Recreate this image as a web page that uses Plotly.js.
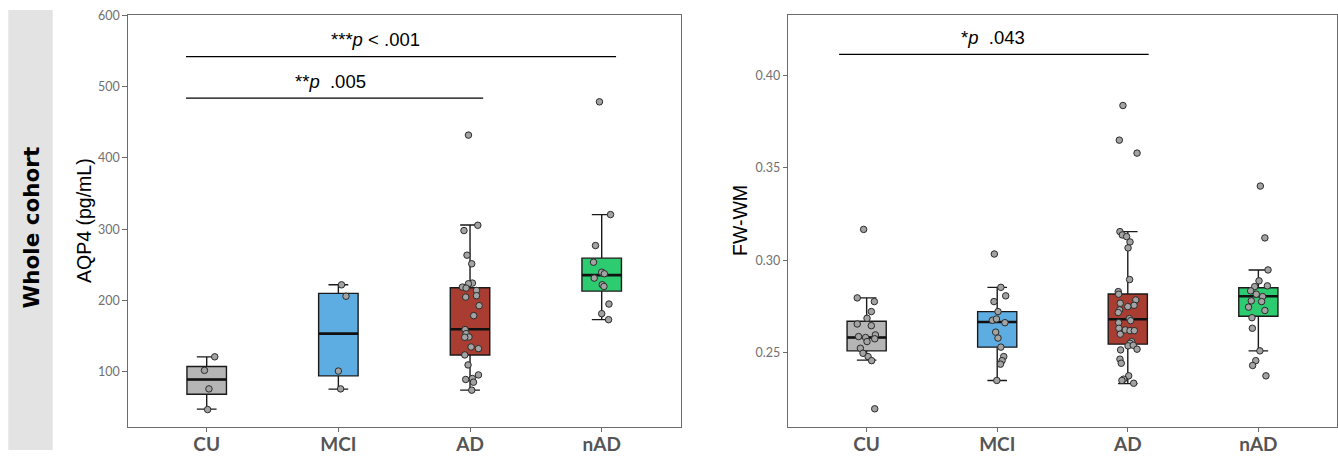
<!DOCTYPE html>
<html><head><meta charset="utf-8">
<script src="https://cdn.plot.ly/plotly-3.0.1.min.js"></script>
<style>html,body{margin:0;padding:0;background:#fff}#chart{width:1338px;height:456px}</style>
</head><body><div id="chart"></div>
<script>
// ---------- data ----------
const groups = ['CU', 'MCI', 'AD', 'nAD'];
const boxColors = ['#b5b5b5', '#5dade2', '#a93d31', '#2ecc71'];

// Panel 1: AQP4 (pg/mL) box statistics
const aqpQ1  = [68.5, 94.3, 123.6, 213.2];
const aqpMed = [89.2, 153.5, 159.6, 235.6];
const aqpQ3  = [107.4, 210.0, 217.9, 259.4];
const aqpLo  = [47.6, 75.6, 74.2, 173.1];
const aqpHi  = [120.9, 222.0, 305.8, 320.5];

// Panel 1 individual points (value + horizontal jitter)
const aqpCU = [121, 102, 76, 47];
const aqpCUJit = [0.061, -0.017, 0.017, 0.007];
const aqpMCI = [222, 206, 101, 76];
const aqpMCIJit = [0.024, 0.058, 0.0, 0.017];
const aqpAD = [432, 305.5, 298.1, 263.6, 251.5, 224.4, 223.5, 218.8, 217.4, 214.1, 204.8, 206.7, 192.7, 178.7,
               159.1, 153.5, 148.8, 148.4, 134.8, 132.5, 123.6, 109.6, 95.6, 89.2, 90.6, 85.4, 74.2];
const aqpADJit = [-0.012, 0.059, -0.046, -0.023, 0.013, 0.018, -0.012, -0.058, -0.03, 0.049, -0.033, 0.049, 0.069, 0.028,
                  -0.038, -0.03, -0.008, -0.04, 0.008, 0.064, -0.04, -0.015, 0.064, -0.033, 0.018, 0.026, 0.013];
const aqpNAD = [478.7, 320.5, 277.1, 253.7, 239.7, 237.5, 231.4, 222.1, 219.7, 195, 181.5, 173.1];
const aqpNADJit = [-0.017, 0.067, -0.047, -0.062, 0.0, 0.02, -0.057, 0.004, 0.017, 0.055, 0.0, 0.052];

// Panel 2: FW-WM box statistics
const fwQ1  = [0.2511, 0.2531, 0.2547, 0.2698];
const fwMed = [0.2583, 0.2667, 0.2682, 0.2806];
const fwQ3  = [0.2671, 0.2723, 0.2818, 0.2852];
const fwLo  = [0.2461, 0.2351, 0.2334, 0.2511];
const fwHi  = [0.2797, 0.2854, 0.3155, 0.2948];

const fwCU = [0.3167, 0.2797, 0.2777, 0.2723, 0.2687, 0.2656, 0.2647, 0.2588, 0.2583, 0.2597, 0.2576, 0.2561, 0.2525,
              0.2498, 0.2480, 0.2458, 0.2198];
const fwCUJit = [-0.023, -0.072, 0.059, 0.036, 0.003, -0.072, 0.036, -0.062, -0.008, 0.067, 0.062, 0.003, -0.048,
                 -0.028, 0.011, 0.038, 0.062];
const fwMCI = [0.3034, 0.2854, 0.2808, 0.2777, 0.2723, 0.2676, 0.2683, 0.2663, 0.2612, 0.2580, 0.2531, 0.2480, 0.2458,
               0.2439, 0.2351];
const fwMCIJit = [-0.022, 0.028, 0.065, -0.025, 0.006, -0.037, -0.006, 0.059, -0.012, 0.006, 0.028, 0.05, 0.037,
                  0.025, -0.003];
const fwAD = [0.3836, 0.3649, 0.3579, 0.3155, 0.3137, 0.3128, 0.3099, 0.3067, 0.2896, 0.2831, 0.2817, 0.2786, 0.2768,
              0.2757, 0.2750, 0.2732, 0.2718, 0.2685, 0.2674, 0.2663, 0.2633, 0.2624, 0.2620, 0.2620, 0.2601, 0.2561,
              0.2552, 0.2538, 0.2541, 0.2520, 0.2516, 0.2466, 0.2444, 0.2376, 0.2358, 0.2351, 0.2336];
const fwADJit = [-0.037, -0.065, 0.071, -0.06, -0.042, -0.009, 0.017, 0.002, 0.014, -0.073, -0.07, 0.061, -0.058,
                 0.048, 0.0, -0.062, -0.073, 0.012, 0.022, -0.07, -0.068, -0.019, 0.017, 0.05, -0.058, 0.03,
                 0.017, 0.002, 0.042, 0.071, -0.055, -0.06, -0.05, 0.007, -0.032, -0.045, 0.045];
const fwNAD = [0.3401, 0.3121, 0.2948, 0.2889, 0.2858, 0.2862, 0.2835, 0.2817, 0.2804, 0.2781, 0.2777, 0.2747, 0.2729,
               0.2690, 0.2633, 0.2511, 0.2458, 0.2432, 0.2376];
const fwNADJit = [0.015, 0.05, 0.074, 0.005, -0.028, 0.069, -0.059, -0.016, 0.033, -0.054, 0.025, -0.075, 0.05,
                  -0.049, -0.046, 0.012, -0.02, -0.044, 0.058];

// significance brackets
const aqpBrX0 = [-0.157, -0.157];
const aqpBrX1 = [3.109, 2.10];
const aqpBrY = [542, 484];
const aqpBrLabel = ['***<i>p</i> &lt; .001', '**<i>p</i>  .005'];
const aqpBrLabelX = [1.28, 0.944];
const aqpBrLabelY = [565.5, 507];
const fwBrX0 = [-0.211];
const fwBrX1 = [2.16];
const fwBrY = [0.4112];
const fwBrLabel = ['*<i>p</i>  .043'];
const fwBrLabelX = [0.968];
const fwBrLabelY = [0.4202];

// ---------- build ----------
const W = 1338, H = 456;
const px = v => v / W;
const py = v => 1 - v / H;
const BOXW = 0.3;

const traces = [];
function addPanel(xa, ya, q1, med, q3, lo, hi, pts, jits) {
  for (let i = 0; i < groups.length; i++) {
    traces.push({
      type: 'box', xaxis: xa, yaxis: ya, x: [i],
      q1: [q1[i]], median: [med[i]], q3: [q3[i]], lowerfence: [lo[i]], upperfence: [hi[i]],
      width: BOXW, whiskerwidth: 0.5, boxpoints: false,
      fillcolor: boxColors[i], line: {color: '#1a1a1a', width: 1.4},
      hoverinfo: 'skip', showlegend: false
    });
    traces.push({
      type: 'scatter', mode: 'lines', xaxis: xa, yaxis: ya,
      x: [i - BOXW / 2, i + BOXW / 2], y: [med[i], med[i]],
      line: {color: '#111', width: 2.6}, hoverinfo: 'skip', showlegend: false
    });
  }
  for (let i = 0; i < groups.length; i++) {
    traces.push({
      type: 'scatter', mode: 'markers', xaxis: xa, yaxis: ya,
      x: pts[i].map((v, k) => i + jits[i][k]), y: pts[i],
      marker: {size: 6.5, color: '#a3a3a3', line: {color: '#2a2a2a', width: 1}},
      hoverinfo: 'skip', showlegend: false
    });
  }
}
addPanel('x', 'y', aqpQ1, aqpMed, aqpQ3, aqpLo, aqpHi,
  [aqpCU, aqpMCI, aqpAD, aqpNAD], [aqpCUJit, aqpMCIJit, aqpADJit, aqpNADJit]);
addPanel('x2', 'y2', fwQ1, fwMed, fwQ3, fwLo, fwHi,
  [fwCU, fwMCI, fwAD, fwNAD], [fwCUJit, fwMCIJit, fwADJit, fwNADJit]);

const frameColor = '#6b6b6b';
function xAxis(domain, anchor) {
  return {
    domain: domain, anchor: anchor, range: [-0.6, 3.6], tickmode: 'array',
    tickvals: [0, 1, 2, 3], ticktext: groups, ticks: 'outside', ticklen: 4, tickcolor: frameColor,
    ticklabelstandoff: -4,
    showline: true, mirror: true, linecolor: frameColor, linewidth: 1, showgrid: false, zeroline: false,
    tickfont: {family: 'Lato', size: 19, color: '#555555', weight: 700}, fixedrange: true
  };
}
function yAxis(domain, anchor, range, dtick, fmt) {
  return {
    domain: domain, anchor: anchor, range: range, dtick: dtick, tickformat: fmt,
    ticks: 'outside', ticklen: 4.5, tickcolor: frameColor,
    showline: true, mirror: true, linecolor: frameColor, linewidth: 1, showgrid: false, zeroline: false,
    tickfont: {family: 'Lato', size: 12.5, color: '#707070'}, fixedrange: true
  };
}

const shapes = [{
  type: 'rect', xref: 'paper', yref: 'paper', x0: px(8.3), x1: px(52.7), y0: py(450), y1: py(10),
  fillcolor: '#e3e3e3', line: {width: 0}, layer: 'below'
}];
const annotations = [
  {xref: 'paper', yref: 'paper', x: px(30.5), y: py(228), xanchor: 'center', yanchor: 'middle',
   text: '<b>Whole cohort</b>', textangle: -90,
   showarrow: false, font: {family: 'DejaVu Sans', size: 21.5, color: '#000'}},
  {xref: 'paper', yref: 'paper', x: px(84), y: py(221), xanchor: 'center', yanchor: 'middle',
   text: 'AQP4 (pg/mL)', textangle: -90,
   showarrow: false, font: {family: 'Liberation Sans', size: 19.5, color: '#000'}},
  {xref: 'paper', yref: 'paper', x: px(740), y: py(221), xanchor: 'center', yanchor: 'middle',
   text: 'FW-WM', textangle: -90,
   showarrow: false, font: {family: 'Liberation Sans', size: 19.5, color: '#000'}}
];
aqpBrY.forEach((y, k) => {
  shapes.push({type: 'line', xref: 'x', yref: 'y', x0: aqpBrX0[k], x1: aqpBrX1[k], y0: y, y1: y,
               line: {color: '#000', width: 1.3}});
  annotations.push({xref: 'x', yref: 'y', x: aqpBrLabelX[k], y: aqpBrLabelY[k], xanchor: 'center', yanchor: 'middle',
                    text: aqpBrLabel[k],
                    showarrow: false, font: {family: 'Liberation Sans', size: 18.5, color: '#000'}});
});
fwBrY.forEach((y, k) => {
  shapes.push({type: 'line', xref: 'x2', yref: 'y2', x0: fwBrX0[k], x1: fwBrX1[k], y0: y, y1: y,
               line: {color: '#000', width: 1.3}});
  annotations.push({xref: 'x2', yref: 'y2', x: fwBrLabelX[k], y: fwBrLabelY[k], xanchor: 'center', yanchor: 'middle',
                    text: fwBrLabel[k],
                    showarrow: false, font: {family: 'Liberation Sans', size: 18.5, color: '#000'}});
});

const yDom = [py(427.3), py(15)];
const layout = {
  width: W, height: H, margin: {l: 0, r: 0, t: 0, b: 0},
  paper_bgcolor: '#fff', plot_bgcolor: '#fff', showlegend: false, boxmode: 'overlay',
  xaxis: xAxis([px(127.7), px(680.7)], 'y'),
  yaxis: yAxis(yDom, 'x', [22.1, 600.5], 100, 'd'),
  xaxis2: xAxis([px(788.3), px(1336.7)], 'y2'),
  yaxis2: yAxis(yDom, 'x2', [0.2098, 0.4325], 0.05, '.2f'),
  shapes: shapes, annotations: annotations
};
Plotly.newPlot('chart', traces, layout, {displayModeBar: false, staticPlot: true});
</script>
</body></html>
